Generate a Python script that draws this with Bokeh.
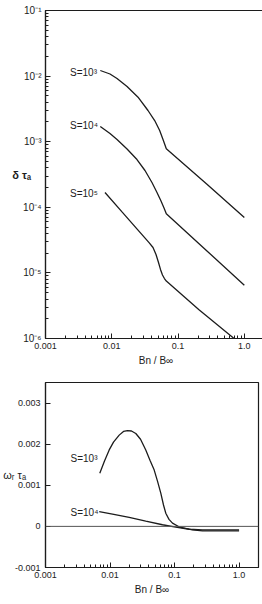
from bokeh.plotting import figure
from bokeh.layouts import column
from bokeh.models import FixedTicker, Label, Span, Range1d
from bokeh.embed import file_html
from bokeh.resources import INLINE
import math

FONT = "Liberation Sans"
INK = "#1c1c1c"

# ---------------- data: growth rate (top panel) ----------------
top_s3_x = [0.00671, 0.0094, 0.0120, 0.0170, 0.0249, 0.0352, 0.0444, 0.0528, 0.0593, 0.0665, 0.273, 1.0]
top_s3_y = [0.01217, 0.01076, 0.00919, 0.00694, 0.00477, 0.00299, 0.0021, 0.00148, 0.00108, 0.00078, 0.000225, 0.00007]

top_s4_x = [0.00671, 0.0094, 0.0120, 0.0170, 0.0240, 0.0317, 0.0404, 0.0481, 0.0553, 0.0614, 0.0665, 0.273, 1.0]
top_s4_y = [0.00171, 0.00133, 0.00108, 0.000774, 0.000535, 0.000364, 0.000239, 0.000168, 0.000125, 0.0000976, 0.0000796, 0.0000216, 0.0000065]

top_s5_x = [0.0079, 0.01426, 0.0249, 0.0365, 0.0419, 0.0465, 0.0507, 0.0543, 0.0582, 0.0623, 0.0665, 0.207, 0.70]
top_s5_y = [1.68e-4, 8.5e-5, 4.49e-5, 2.9e-5, 2.44e-5, 1.91e-5, 1.44e-5, 1.13e-5, 9.3e-6, 8.2e-6, 7.5e-6, 2.75e-6, 1.0e-6]

top_labels = ["S=10³", "S=10⁴", "S=10⁵"]
top_xticks = [0.001, 0.01, 0.1, 1.0]
top_xtick_labels = ["0.001", "0.01", "0.1", "1.0"]
top_yticks = [1e-6, 1e-5, 1e-4, 1e-3, 1e-2, 1e-1]
top_ytick_labels = ["10⁻⁶", "10⁻⁵", "10⁻⁴", "10⁻³", "10⁻²", "10⁻¹"]
TOP_Y_TITLE = "δ τₐ"

# ---------------- data: real frequency (bottom panel) ----------------
bot_s3_x = [0.00694, 0.00821, 0.00971, 0.01132, 0.01387, 0.01617, 0.01865, 0.0215, 0.0251, 0.0297,
            0.0358, 0.0416, 0.0484, 0.0544, 0.0612, 0.0674, 0.0732, 0.082, 0.0929, 0.1206, 0.19, 0.271, 1.0]
bot_s3_y = [0.00129, 0.00159, 0.00186, 0.00205, 0.00222, 0.00231, 0.00233, 0.00232, 0.00226, 0.00212,
            0.00186, 0.00161, 0.00137, 0.0011, 0.00081, 0.00052, 0.00032, 0.00017, 0.00008, -0.00002, -0.000085, -0.00011, -0.00011]

bot_s4_x = [0.0068, 0.01092, 0.01982, 0.0358, 0.065, 0.1045, 0.1686, 0.271, 1.0]
bot_s4_y = [0.00036, 0.0003, 0.00022, 0.00013, 0.00004, -0.00002, -0.00007, -0.000085, -0.000085]

bot_labels = ["S=10³", "S=10⁴"]
bot_xticks = [0.001, 0.01, 0.1, 1.0]
bot_xtick_labels = ["0.001", "0.01", "0.1", "1.0"]
bot_yticks = [-0.001, 0.0, 0.001, 0.002, 0.003]
bot_ytick_labels = ["-0.001", "0", "0.001", "0.002", "0.003"]
BOT_Y_TITLE = "ωᵣ τₐ"

X_LABEL = "Bn / B∞"


def minor_log(lo_exp, hi_exp, upper):
    out = []
    for e in range(lo_exp, hi_exp + 1):
        for m in range(2, 10):
            v = m * 10.0 ** e
            if v < upper:
                out.append(v)
    return out


def style(p):
    p.outline_line_color = INK
    p.outline_line_width = 1.2
    p.grid.visible = False
    p.background_fill_color = "white"
    p.border_fill_color = "white"
    for ax in (p.xaxis[0], p.yaxis[0]):
        ax.axis_line_color = INK
        ax.axis_line_width = 1.2
        ax.major_tick_line_color = INK
        ax.minor_tick_line_color = INK
        ax.major_tick_line_width = 1
        ax.minor_tick_line_width = 1
        ax.major_tick_in = 5
        ax.major_tick_out = 0
        ax.minor_tick_in = 3
        ax.minor_tick_out = 0
        ax.major_label_text_font = FONT
        ax.major_label_text_font_size = "9px"
        ax.major_label_text_color = INK
        ax.axis_label_text_font = FONT
        ax.axis_label_text_font_size = "10px"
        ax.axis_label_text_font_style = "normal"
        ax.axis_label_text_color = INK
    p.xaxis[0].major_label_standoff = 4
    p.xaxis[0].axis_label_standoff = 3
    p.yaxis[0].major_label_standoff = 4


def y_title(p, text, standoff, size):
    ax = p.yaxis[0]
    ax.axis_label = text
    ax.axis_label_text_font_size = size
    ax.axis_label_standoff = standoff
    try:
        ax.axis_label_orientation = "horizontal"
    except Exception:
        pass


# ---------------- top figure ----------------
tx_lo, tx_hi = 0.001, 2.16
ty_lo, ty_hi = 1e-6, 1e-1
TW, TH = 221, 328
top = figure(x_axis_type="log", y_axis_type="log",
             x_range=Range1d(tx_lo, tx_hi), y_range=Range1d(ty_lo, ty_hi),
             frame_width=TW, frame_height=TH,
             min_border_left=38, min_border_right=3, min_border_top=10, min_border_bottom=34,
             output_backend="svg", toolbar_location=None)
style(top)
top.yaxis[0].major_label_text_font_size = "10px"
top.xaxis[0].ticker = FixedTicker(ticks=top_xticks, minor_ticks=minor_log(-3, 0, tx_hi))
top.xaxis[0].major_label_overrides = dict(zip(top_xticks, top_xtick_labels))
top.yaxis[0].ticker = FixedTicker(ticks=top_yticks, minor_ticks=minor_log(-6, -2, ty_hi))
top.yaxis[0].major_label_overrides = dict(zip(top_yticks, top_ytick_labels))
top.xaxis[0].axis_label = X_LABEL
y_title(top, TOP_Y_TITLE, -11, "11px")
top.yaxis[0].axis_label_text_font_style = "bold"

for xs, ys in ((top_s3_x, top_s3_y), (top_s4_x, top_s4_y), (top_s5_x, top_s5_y)):
    top.line(xs, ys, line_color=INK, line_width=1.3)


def top_pt(px, py):
    # px, py measured from the frame's top-left corner
    x = 10 ** (math.log10(tx_lo) + px / TW * (math.log10(tx_hi) - math.log10(tx_lo)))
    y = 10 ** (math.log10(ty_hi) - py / TH * (math.log10(ty_hi) - math.log10(ty_lo)))
    return x, y


for txt, (px, py) in zip(top_labels, [(24.5, 62), (24.5, 115), (24.5, 183)]):
    x, y = top_pt(px, py)
    top.add_layout(Label(x=x, y=y, text=txt, text_font=FONT, text_font_size="10px",
                         text_color=INK, text_baseline="middle", text_align="left"))

# ---------------- bottom figure ----------------
bx_lo, bx_hi = 0.001, 2.0
by_lo, by_hi = -0.001, 0.0035
BW, BH = 213, 185
bot = figure(x_axis_type="log",
             x_range=Range1d(bx_lo, bx_hi), y_range=Range1d(by_lo, by_hi),
             frame_width=BW, frame_height=BH,
             min_border_left=43, min_border_right=6, min_border_top=10, min_border_bottom=37,
             output_backend="svg", toolbar_location=None)
style(bot)
bot.xaxis[0].ticker = FixedTicker(ticks=bot_xticks, minor_ticks=minor_log(-3, 0, bx_hi))
bot.xaxis[0].major_label_overrides = dict(zip(bot_xticks, bot_xtick_labels))
bot.yaxis[0].ticker = FixedTicker(ticks=bot_yticks, minor_ticks=[])
bot.yaxis[0].major_label_overrides = dict(zip(bot_yticks, bot_ytick_labels))
bot.yaxis[0].major_label_standoff = 5
bot.xaxis[0].axis_label = X_LABEL
y_title(bot, BOT_Y_TITLE, -14, "11px")

bot.add_layout(Span(location=0, dimension="width", line_color="#555555", line_width=1))
for xs, ys in ((bot_s3_x, bot_s3_y), (bot_s4_x, bot_s4_y)):
    bot.line(xs, ys, line_color=INK, line_width=1.3)


def bot_pt(px, py):
    x = 10 ** (math.log10(bx_lo) + px / BW * (math.log10(bx_hi) - math.log10(bx_lo)))
    y = by_hi - py / BH * (by_hi - by_lo)
    return x, y


for txt, (px, py) in zip(bot_labels, [(25, 76), (25, 130)]):
    x, y = bot_pt(px, py)
    bot.add_layout(Label(x=x, y=y, text=txt, text_font=FONT, text_font_size="10px",
                         text_color=INK, text_baseline="middle", text_align="left"))

layout = column(top, bot, spacing=0)
open("out.html", "w").write(file_html(layout, INLINE))
